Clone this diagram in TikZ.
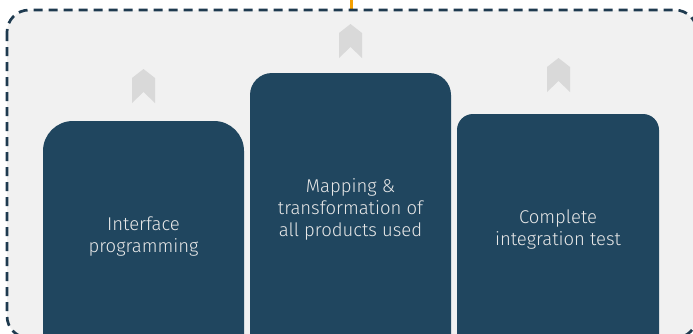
\documentclass[tikz,border=0pt]{standalone}
\usepackage{fontspec}
\setmainfont{Fira Sans Light}
\definecolor{panelgray}{HTML}{F1F1F1}
\definecolor{framenavy}{HTML}{1E3A4F}
\definecolor{stageblue}{HTML}{20465F}
\definecolor{chevgray}{HTML}{D9D9D9}
\definecolor{captiongray}{HTML}{E8E8E8}
\definecolor{feedorange}{HTML}{F5A000}
\begin{document}
\begin{tikzpicture}[x=1pt, y=-1pt,
  frame/.style={draw=framenavy, fill=panelgray, line width=2.7pt, dash pattern=on 9pt off 6pt, rounded corners=22pt},
  stage/.style={fill=stageblue, rounded corners=#1},
  caption/.style={text=captiongray, align=center, inner sep=0pt, font=\fontsize{18.5}{22}\selectfont},
  chevron/.style={fill=chevgray}]
  \useasboundingbox (0,0) rectangle (693,333);
  \clip (0,0) rectangle (693,333);
  \coordinate (feed) at (351,0);
  \coordinate (entry) at (351,10);
  \draw[feedorange, line width=3pt] (feed) -- (entry);
  \path[frame] (7,10) rectangle (697,338);
  \fill[stage=30pt] (43,400) |- (244,121) -- (244,400) -- cycle;
  \fill[stage=22pt] (250,400) |- (451,73) -- (451,400) -- cycle;
  \fill[stage=16pt] (457,400) |- (659,114) -- (659,400) -- cycle;
  \foreach \cx/\cy in {143.5/69, 350.5/24, 558.5/58}
    \fill[chevron] (\cx,\cy) -- ++(11.5,9) -- ++(0,25) -- ++(-11.5,-11) -- ++(-11.5,11) -- ++(0,-25) -- cycle;
  \node[caption] (ifc) at (143.5,237) {Interface\\programming};
  \node[caption] (map) at (350.5,209) {Mapping \&\\transformation of\\all products used};
  \node[caption] (tst) at (558,230) {Complete\\integration test};
\end{tikzpicture}
\end{document}
